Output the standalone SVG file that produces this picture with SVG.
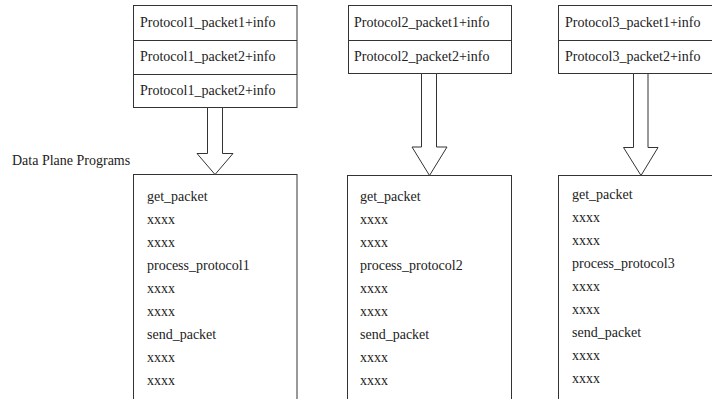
<svg xmlns="http://www.w3.org/2000/svg" width="712" height="399" viewBox="0 0 712 399">
<style>
.box{fill:#fff;stroke:#333;stroke-width:1}
.ln{stroke:#333;stroke-width:1;fill:none}
.arrow{fill:#fff;stroke:#333;stroke-width:1;stroke-linejoin:miter}
text{font-family:"Liberation Serif","Times New Roman",serif;font-size:14px;fill:#222}
</style>
<rect width="712" height="399" fill="#fff"/>
<text id="label" x="12" y="165">Data Plane Programs</text>

<g id="pkts1">
<rect class="box" x="133.5" y="5.5" width="163.5" height="102"/>
<line class="ln" x1="133.5" y1="40.5" x2="297" y2="40.5"/>
<line class="ln" x1="133.5" y1="74.5" x2="297" y2="74.5"/>
<text x="140" y="27">Protocol1_packet1+info</text>
<text x="140" y="61">Protocol1_packet2+info</text>
<text x="140" y="95">Protocol1_packet2+info</text>
</g>
<g id="pkts2">
<rect class="box" x="348.5" y="5.5" width="163" height="68"/>
<line class="ln" x1="348.5" y1="40.5" x2="511.5" y2="40.5"/>
<text x="354" y="27">Protocol2_packet1+info</text>
<text x="354" y="61">Protocol2_packet2+info</text>
</g>
<g id="pkts3">
<rect class="box" x="558.5" y="5.5" width="170" height="68"/>
<line class="ln" x1="558.5" y1="40.5" x2="728.5" y2="40.5"/>
<text x="565" y="27">Protocol3_packet1+info</text>
<text x="565" y="61">Protocol3_packet2+info</text>
</g>

<g id="prog1">
<rect class="box" x="133.5" y="174.5" width="163.5" height="240"/>
<text x="147" y="200.5">get_packet</text>
<text x="147" y="223.5">xxxx</text>
<text x="147" y="246.5">xxxx</text>
<text x="147" y="269.5">process_protocol1</text>
<text x="147" y="292.5">xxxx</text>
<text x="147" y="315.5">xxxx</text>
<text x="147" y="338.5">send_packet</text>
<text x="147" y="361.5">xxxx</text>
<text x="147" y="384.5">xxxx</text>
</g>
<g id="prog2">
<rect class="box" x="347.5" y="175.5" width="164" height="240"/>
<text x="360" y="200.5">get_packet</text>
<text x="360" y="223.5">xxxx</text>
<text x="360" y="246.5">xxxx</text>
<text x="360" y="269.5">process_protocol2</text>
<text x="360" y="292.5">xxxx</text>
<text x="360" y="315.5">xxxx</text>
<text x="360" y="338.5">send_packet</text>
<text x="360" y="361.5">xxxx</text>
<text x="360" y="384.5">xxxx</text>
</g>
<g id="prog3">
<rect class="box" x="558.5" y="175.5" width="170" height="240"/>
<text x="572" y="198.5">get_packet</text>
<text x="572" y="221.5">xxxx</text>
<text x="572" y="244.5">xxxx</text>
<text x="572" y="267.5">process_protocol3</text>
<text x="572" y="290.5">xxxx</text>
<text x="572" y="313.5">xxxx</text>
<text x="572" y="336.5">send_packet</text>
<text x="572" y="359.5">xxxx</text>
<text x="572" y="382.5">xxxx</text>
</g>

<g id="connectors">
<path class="arrow" d="M207.5,107.5 L222.5,107.5 L222.5,153.5 L233,153.5 L215,174.5 L197,153.5 L207.5,153.5 Z"/>
<path class="arrow" d="M421.5,73.5 L436.5,73.5 L436.5,147 L447,147 L429.5,175.5 L412,147 L421.5,147 Z"/>
<path class="arrow" d="M633.5,73.5 L648,73.5 L648,147.5 L658,147.5 L641,175.5 L623.5,147.5 L633.5,147.5 Z"/>
</g>
</svg>
